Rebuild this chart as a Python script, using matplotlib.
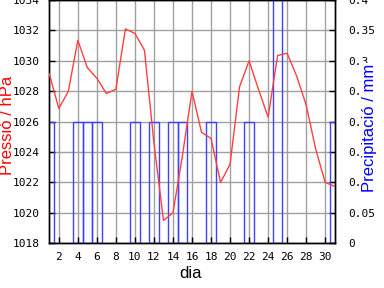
import matplotlib
matplotlib.use("Agg")
import matplotlib.pyplot as plt

days = list(range(1, 32))
pressure = [1029.15, 1026.86, 1028.0, 1031.35, 1029.55, 1028.85, 1027.85, 1028.13,
            1032.1, 1031.8, 1030.7, 1024.6, 1019.5, 1020.0, 1023.8, 1028.0,
            1025.3, 1024.9, 1022.0, 1023.2, 1028.3, 1030.0, 1028.1, 1026.3,
            1030.35, 1030.5, 1029.0, 1027.1, 1024.2, 1022.0, 1021.75]
rain_days = [1, 4, 5, 6, 10, 12, 14, 15, 18, 22, 25, 31]
rain_mm = [0.2, 0.2, 0.2, 0.2, 0.2, 0.2, 0.2, 0.2, 0.2, 0.2, 0.6, 0.2]

xticks = list(range(2, 31, 2))
p_ticks = list(range(1018, 1035, 2))
r_ticks = [0, 0.05, 0.1, 0.15, 0.2, 0.25, 0.3, 0.35, 0.4]
r_labels = ['0', '0.05', '0.1', '0.15', '0.2', '0.25', '0.3', '0.35', '0.4']

fig = plt.figure(figsize=(3.84, 2.88), dpi=100)
rect = [49.3/384, 1 - 243.3/288, (334.7-49.3)/384, 243.3/288]
ax = fig.add_axes(rect)
ax2 = ax.twinx()

mono = 'DejaVu Sans Mono'

ax.set_xlim(1, 31)
ax.set_ylim(1018, 1034)
ax.set_xticks(xticks)
ax.set_yticks(p_ticks)
ax.grid(True, color='#a0a0a0', linewidth=1.0)
ax.set_axisbelow(True)

ax2.set_ylim(0, 0.4)
ax2.set_yticks(r_ticks)
ax2.set_yticklabels(r_labels)

ax2.bar(rain_days, rain_mm, width=1.0, fill=False, edgecolor='#4040ff', linewidth=1.0, zorder=2)

# pressure line on top layer
ax3 = fig.add_axes(rect, frameon=False)
ax3.set_xlim(1, 31)
ax3.set_ylim(1018, 1034)
ax3.plot(days, pressure, color='#ff4040', linewidth=1.0)
ax3.set_xticks([])
ax3.set_yticks([])

for a in (ax, ax2):
    for s in a.spines.values():
        s.set_color('black')
        s.set_linewidth(1.0)

ax.tick_params(axis='both', direction='in', length=4, width=1, color='black',
               labelsize=8)
ax.tick_params(axis='y', pad=7)
ax.tick_params(axis='x', pad=6)
ax2.tick_params(axis='y', direction='in', length=4, width=1, labelsize=8, pad=10)
for lab in ax.get_xticklabels() + ax.get_yticklabels() + ax2.get_yticklabels():
    lab.set_fontfamily(mono)
for lab in ax2.get_yticklabels():
    lab.set_horizontalalignment('left')

fig.text(191/384, 1 - 273/288, 'dia', ha='center', va='center', fontsize=12,
         family='Liberation Sans', color='black')
fig.text(7.5/384, 1 - 125.5/288, 'Pressió / hPa', ha='center', va='center', rotation=90,
         fontsize=12, family='Liberation Sans', color='red')
fig.text(369.5/384, 1 - 128/288, 'Precipitació / mm', ha='center', va='center', rotation=90,
         fontsize=12, family='Liberation Sans', color='blue',
         bbox=dict(facecolor='white', edgecolor='none', pad=1.0))

fig.savefig('out.png', dpi=100)
